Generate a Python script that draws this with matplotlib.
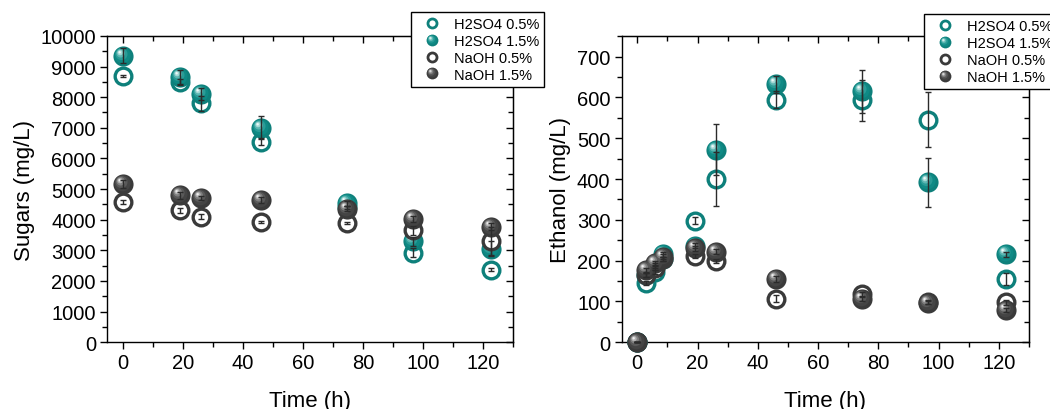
import matplotlib
matplotlib.use("Agg")
import matplotlib.pyplot as plt
import numpy as np
from matplotlib.path import Path
from matplotlib.lines import Line2D
from matplotlib.legend_handler import HandlerTuple
from matplotlib.ticker import MultipleLocator

plt.rcParams['font.family'] = ['Liberation Sans', 'DejaVu Sans']

# ---------------- data ----------------
series_labels = ["H2SO4 0.5%", "H2SO4 1.5%", "NaOH 0.5%", "NaOH 1.5%"]

# Sugars (mg/L)
t_sugar = [0, 19, 26, 46, 74.5, 96.5, 122.5]
sug_h2so4_05 = [8700, 8500, 7800, 6550, 4400, 2920, 2370]
sug_h2so4_05_err = [30, 80, 250, 120, 60, 150, 50]
sug_h2so4_15 = [9350, 8650, 8100, 7000, 4530, 3300, 3050]
sug_h2so4_15_err = [250, 250, 200, 370, 80, 150, 250]
sug_naoh_05 = [4580, 4300, 4100, 3930, 3880, 3650, 3300]
sug_naoh_05_err = [60, 80, 80, 40, 30, 150, 450]
sug_naoh_15 = [5170, 4790, 4700, 4630, 4350, 4020, 3770]
sug_naoh_15_err = [120, 100, 60, 100, 80, 100, 120]

# Ethanol (mg/L)
t_eth = [0, 3, 6, 8.5, 19, 26, 46, 74.5, 96.5, 122.5]
eth_h2so4_05 = [0, 145, 172, 205, 298, 400, 595, 593, 546, 155]
eth_h2so4_05_err = [0, 5, 5, 5, 8, 67, 22, 50, 67, 15]
eth_h2so4_15 = [0, 165, 188, 215, 237, 472, 632, 615, 392, 215]
eth_h2so4_15_err = [0, 5, 5, 5, 6, 63, 20, 52, 60, 6]
eth_naoh_05 = [0, 165, 182, 205, 212, 200, 107, 118, 98, 98]
eth_naoh_05_err = [0, 5, 5, 5, 5, 5, 8, 6, 5, 6]
eth_naoh_15 = [0, 178, 195, 210, 230, 222, 155, 105, 97, 80]
eth_naoh_15_err = [0, 5, 5, 5, 6, 6, 8, 5, 4, 5]

TEAL = "#0e807b"
GRAY = "#3a3a3a"

teal_layers = [(0.40, -0.05, 0.06, "#0f8a85"), (0.30, -0.10, 0.12, "#2a9c97"),
               (0.21, -0.14, 0.16, "#5db7b3"), (0.13, -0.17, 0.19, "#a6d9d6"),
               (0.06, -0.19, 0.21, "#eef8f8")]
gray_layers = [(0.40, -0.05, 0.06, "#444444"), (0.30, -0.10, 0.12, "#5a5a5a"),
               (0.21, -0.14, 0.16, "#808080"), (0.13, -0.17, 0.19, "#b4b4b4"),
               (0.06, -0.19, 0.21, "#eeeeee")]


def offset_circle(r, cx, cy):
    dummy = Path([(0.5, 0.5), (-0.5, -0.5)], [Path.MOVETO, Path.MOVETO])
    circ = Path.circle((cx, cy), r)
    return Path.make_compound_path(dummy, circ)


MS_FILLED = 14.5
MS_OPEN = 12.0
MEW_OPEN = 2.4


def draw_open(ax, x, y, color, z):
    ax.plot(x, y, linestyle="none", marker="o", ms=MS_OPEN, mfc="white",
            mec=color, mew=MEW_OPEN, zorder=z)


def draw_sphere(ax, x, y, base, layers, z):
    ax.plot(x, y, linestyle="none", marker="o", ms=MS_FILLED, mfc=base,
            mec=base, mew=0, zorder=z)
    for i, (r, cx, cy, c) in enumerate(layers):
        ax.plot(x, y, linestyle="none", marker=offset_circle(r, cx, cy),
                ms=MS_FILLED, mfc=c, mec=c, mew=0, zorder=z + 0.01 * (i + 1))


def sphere_handle(base, layers, ms):
    hs = [Line2D([], [], linestyle="none", marker="o", ms=ms, mfc=base, mec=base, mew=0)]
    for r, cx, cy, c in layers:
        hs.append(Line2D([], [], linestyle="none", marker=offset_circle(r, cx, cy),
                         ms=ms, mfc=c, mec=c, mew=0))
    return tuple(hs)


def style_axes(ax, ymajor, yminor):
    ax.xaxis.set_major_locator(MultipleLocator(20))
    ax.xaxis.set_minor_locator(MultipleLocator(10))
    ax.yaxis.set_major_locator(MultipleLocator(ymajor))
    ax.yaxis.set_minor_locator(MultipleLocator(yminor))
    ax.tick_params(which="major", direction="out", length=5, width=1.0,
                   labelsize=14.5, pad=3)
    ax.tick_params(which="minor", direction="out", length=3.5, width=1.0)
    for s in ax.spines.values():
        s.set_linewidth(1.0)
    secx = ax.secondary_xaxis("top")
    secx.xaxis.set_major_locator(MultipleLocator(20))
    secx.xaxis.set_minor_locator(MultipleLocator(10))
    secx.tick_params(which="major", direction="in", length=5, width=1.0, labeltop=False)
    secx.tick_params(which="minor", direction="in", length=3.5, width=1.0)
    secy = ax.secondary_yaxis("right")
    secy.yaxis.set_major_locator(MultipleLocator(ymajor))
    secy.yaxis.set_minor_locator(MultipleLocator(yminor))
    secy.tick_params(which="major", direction="in", length=5, width=1.0, labelright=False)
    secy.tick_params(which="minor", direction="in", length=3.5, width=1.0)


def plot_panel(ax, t, s1, e1, s2, e2, s3, e3, s4, e4):
    draw_open(ax, t, s1, TEAL, 3)
    draw_sphere(ax, t, s2, TEAL, teal_layers, 4)
    draw_open(ax, t, s3, GRAY, 5)
    draw_sphere(ax, t, s4, GRAY, gray_layers, 6)
    for s, e in [(s1, e1), (s2, e2), (s3, e3), (s4, e4)]:
        ax.errorbar(t, s, yerr=e, fmt="none", ecolor="#2b2b2b", elinewidth=1.0,
                    capsize=2.5, capthick=1.0, zorder=10)


def add_legend(fig, anchor):
    h_open_t = Line2D([], [], linestyle="none", marker="o", ms=6.5, mfc="white",
                      mec=TEAL, mew=2.0)
    h_open_g = Line2D([], [], linestyle="none", marker="o", ms=6.5, mfc="white",
                      mec=GRAY, mew=2.0)
    handles = [h_open_t, sphere_handle(TEAL, teal_layers, 8.5),
               h_open_g, sphere_handle(GRAY, gray_layers, 8.5)]
    leg = fig.legend(handles, series_labels, loc="upper left", bbox_to_anchor=anchor,
                     bbox_transform=fig.transFigure, fontsize=10.5, frameon=True,
                     fancybox=False, framealpha=1, edgecolor="black",
                     borderpad=0.35, handletextpad=0.4, labelspacing=0.2,
                     handlelength=2.2, borderaxespad=0,
                     handler_map={tuple: HandlerTuple(ndivide=1, pad=0)})
    leg.get_frame().set_linewidth(1.0)
    leg.set_zorder(20)
    return leg


fig = plt.figure(figsize=(10.5, 4.1), dpi=100)
ax1 = fig.add_axes([0.102, 0.163, 0.387, 0.747])
ax2 = fig.add_axes([0.592, 0.163, 0.388, 0.746])

plot_panel(ax1, t_sugar, sug_h2so4_05, sug_h2so4_05_err, sug_h2so4_15, sug_h2so4_15_err,
           sug_naoh_05, sug_naoh_05_err, sug_naoh_15, sug_naoh_15_err)
ax1.set_xlim(-5.2, 130)
ax1.set_ylim(0, 10000)
style_axes(ax1, 1000, 500)
ax1.set_xlabel("Time (h)", fontsize=16, labelpad=13)
ax1.set_ylabel("Sugars (mg/L)", fontsize=16, labelpad=4)

plot_panel(ax2, t_eth, eth_h2so4_05, eth_h2so4_05_err, eth_h2so4_15, eth_h2so4_15_err,
           eth_naoh_05, eth_naoh_05_err, eth_naoh_15, eth_naoh_15_err)
ax2.set_xlim(-5.2, 130)
ax2.set_ylim(0, 750)
style_axes(ax2, 100, 50)
ax2.set_xlabel("Time (h)", fontsize=16, labelpad=13)
ax2.set_ylabel("Ethanol (mg/L)", fontsize=16, labelpad=4)

for ax in (ax1, ax2):
    for c in ax.collections + ax.lines:
        c.set_clip_on(False)

add_legend(fig, (0.391, 0.969))
add_legend(fig, (0.880, 0.964))

fig.savefig("out.png", dpi=100)
